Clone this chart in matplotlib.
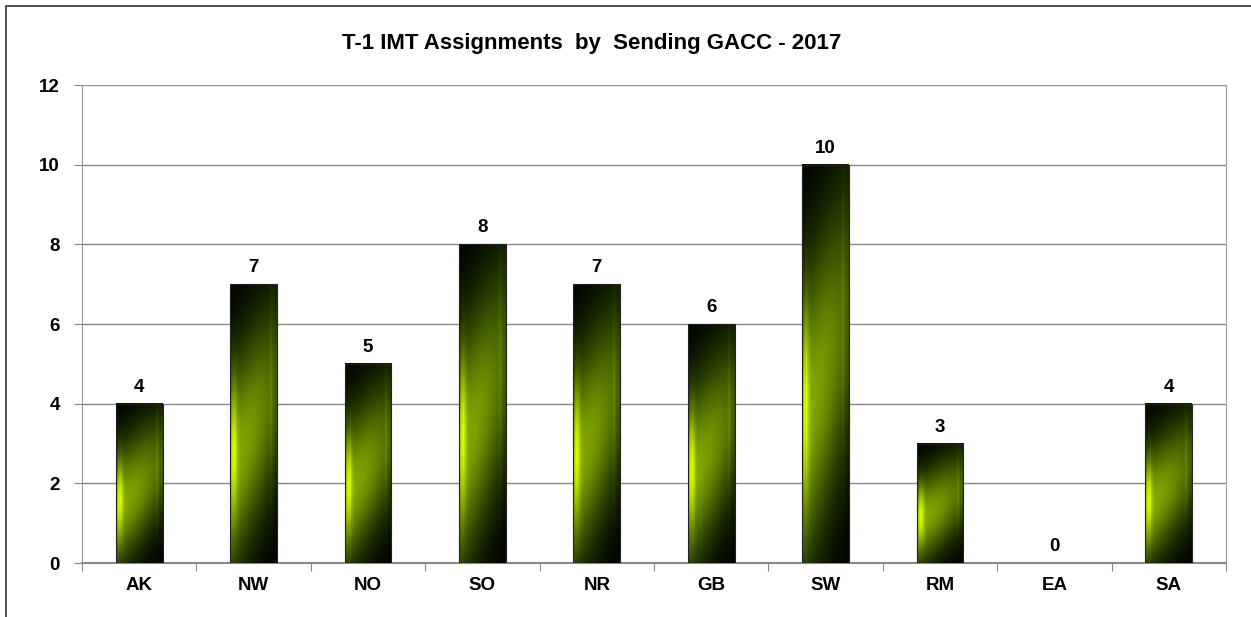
import numpy as np
import matplotlib
matplotlib.use("Agg")
import matplotlib.pyplot as plt
from matplotlib.patches import Rectangle

categories = ["AK", "NW", "NO", "SO", "NR", "GB", "SW", "RM", "EA", "SA"]
values = [4, 7, 5, 8, 7, 6, 10, 3, 0, 4]
yticks = [0, 2, 4, 6, 8, 10, 12]
title = "T-1 IMT Assignments  by  Sending GACC - 2017"

plt.rcParams['font.family'] = ['Liberation Sans', 'DejaVu Sans']

W, H = 1251, 617
fig = plt.figure(figsize=(W/100, H/100), dpi=100)
ax = fig.add_axes([82/W, 1-563/H, (1226-82)/W, (563-85)/H])

# figure border
fig.patches.append(Rectangle((6/W, -0.1), 1.2, 1-6/H+0.1, transform=fig.transFigure,
                             fill=False, edgecolor='#333333', linewidth=1.2))

# gradient texture for bars
nu, nv = 80, 300
u = np.linspace(0, 1, nu)[None, :]
t = np.linspace(0, 1, nv)[:, None]
tc = 0.58 - 0.30 * (u - 0.3)
band = np.exp(-((t - tc) / 0.36) ** 2)
band = band * (1 - 0.45 * u ** 2)
hl = np.exp(-((u - 0.08) / 0.07) ** 2) * np.exp(-((t - 0.58) / 0.24) ** 2)
bevel = np.exp(-((u - 0.88) / 0.03) ** 2) * band * 0.25
R = 0.52 * band ** 1.2 + 0.34 * hl + 0.5 * bevel
G = 0.66 * band + 0.36 * hl + 0.6 * bevel
rgb = np.zeros((nv, nu, 3))
rgb[..., 0] = np.clip(R, 0, 1)
rgb[..., 1] = np.clip(G, 0, 1)

bw = 0.41
x = np.arange(len(categories))
for xi, v in zip(x, values):
    if v > 0:
        ax.imshow(rgb, extent=(xi - bw/2, xi + bw/2, 0, v), aspect='auto',
                  origin='upper', zorder=3, interpolation='bilinear')
        ax.add_patch(Rectangle((xi - bw/2, 0), bw, v, fill=False,
                               edgecolor='#222222', linewidth=0.8, zorder=4))
    ax.text(xi, v + 0.2, str(v), ha='center', va='bottom', fontsize=13.5,
            fontweight='bold', zorder=5)
ax.set_xlim(-0.5, len(categories) - 0.5)
ax.set_ylim(0, 12)

ax.set_yticks(yticks)
ax.set_yticklabels([str(v) for v in yticks], fontsize=13.5, fontweight='bold')
ax.yaxis.grid(True, color='#888888', linewidth=1)
ax.set_axisbelow(True)

ax.set_xticks(np.arange(-0.5, len(categories)), minor=False)
ax.set_xticklabels([])
ax.set_xticks(x, minor=True)
ax.set_xticklabels(categories, minor=True, fontsize=13.5, fontweight='bold')
ax.tick_params(axis='x', which='minor', length=0, pad=10)
ax.tick_params(axis='x', which='major', length=6, color='#888888', direction='out')
ax.tick_params(axis='y', length=6, color='#888888', pad=10)

for s in ['left', 'right', 'top']:
    ax.spines[s].set_color('#999999')
ax.spines['bottom'].set_color('#888888')
ax.spines['bottom'].set_linewidth(1.5)

fig.text(592/W, 1-43/H, title, ha='center', va='center', fontsize=16, fontweight='bold')

fig.savefig("out.png", dpi=100)
